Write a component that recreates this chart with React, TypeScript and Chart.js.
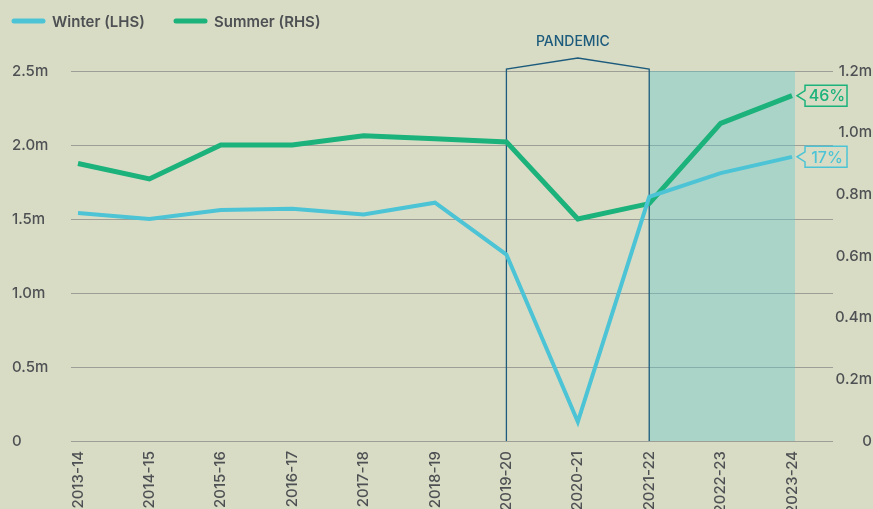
import React, { useEffect, useRef } from "react";
import { Chart, registerables } from "chart.js";

Chart.register(...registerables);

const categories = ["2013-14", "2014-15", "2015-16", "2016-17", "2017-18", "2018-19", "2019-20", "2020-21", "2021-22", "2022-23", "2023-24"];
const winter = [1.54, 1.5, 1.56, 1.57, 1.53, 1.61, 1.26, 0.13, 1.65, 1.81, 1.92];
const summer = [0.9, 0.85, 0.96, 0.96, 0.99, 0.98, 0.97, 0.72, 0.77, 1.03, 1.12];
const leftTicks = [0, 0.5, 1.0, 1.5, 2.0, 2.5];
const rightTicks = [0, 0.2, 0.4, 0.6, 0.8, 1.0, 1.2];
const seriesNames = ["Winter (LHS)", "Summer (RHS)"];
const changeLabels = ["17%", "46%"];
const pandemicStart = 6;
const pandemicEnd = 8;
const shadeStart = 8;
const shadeEnd = 10;
const pandemicLabel = "PANDEMIC";

const BG = "#d9dcc5";
const WINTER = "#4cc4d5";
const SUMMER = "#1bb27b";
const DARK = "#1c5b7c";
const TEXT = "#4e5153";
const GRID = "#9d9f96";
const FONT = "Inter, 'Open Sans', sans-serif";

const fmtM = (v: number) => (Math.abs(v) < 1e-9 ? "0" : v.toFixed(1) + "m");

export default function App() {
  const ref = useRef<HTMLCanvasElement>(null);

  useEffect(() => {
    document.body.style.margin = "0";
    document.body.style.background = BG;
    const canvas = ref.current!;
    const decor = {
      id: "decor",
      beforeDraw(chart: any) {
        const ctx = chart.ctx;
        ctx.save();
        ctx.fillStyle = BG;
        ctx.fillRect(0, 0, chart.width, chart.height);
        ctx.restore();
      },
      beforeDatasetsDraw(chart: any) {
        const ctx = chart.ctx;
        const xs = chart.scales.x;
        const { top, bottom } = chart.chartArea;
        ctx.save();
        const x0 = xs.getPixelForValue(shadeStart);
        const x1 = xs.getPixelForValue(shadeEnd) + 3;
        ctx.fillStyle = "rgba(100,200,207,0.385)";
        ctx.fillRect(x0, top, x1 - x0, bottom - top);
        const p0 = xs.getPixelForValue(pandemicStart);
        const p1 = xs.getPixelForValue(pandemicEnd);
        ctx.strokeStyle = DARK;
        ctx.lineWidth = 1.3;
        ctx.beginPath();
        ctx.moveTo(p0, bottom);
        ctx.lineTo(p0, top - 2);
        ctx.lineTo((p0 + p1) / 2, top - 13);
        ctx.lineTo(p1, top - 2);
        ctx.lineTo(p1, bottom);
        ctx.stroke();
        ctx.fillStyle = DARK;
        ctx.font = `500 14px ${FONT}`;
        ctx.textAlign = "center";
        ctx.textBaseline = "middle";
        ctx.fillText(pandemicLabel, (p0 + p1) / 2 - 5, top - 29);
        ctx.restore();
      },
      afterDatasetsDraw(chart: any) {
        const ctx = chart.ctx;
        ctx.save();
        chart.data.datasets.forEach((ds: any, i: number) => {
          const meta = chart.getDatasetMeta(i);
          const pt = meta.data[meta.data.length - 1];
          const x = pt.x;
          const y = pt.y;
          const bx = x + 13;
          const bw = 42;
          const bh = 21;
          const by = y - bh / 2;
          ctx.beginPath();
          ctx.moveTo(bx, y - 5);
          ctx.lineTo(x + 5, y);
          ctx.lineTo(bx, y + 5);
          ctx.lineTo(bx, by + bh);
          ctx.lineTo(bx + bw, by + bh);
          ctx.lineTo(bx + bw, by);
          ctx.lineTo(bx, by);
          ctx.closePath();
          ctx.fillStyle = BG;
          ctx.fill();
          ctx.strokeStyle = ds.borderColor;
          ctx.lineWidth = 1.5;
          ctx.stroke();
          ctx.fillStyle = ds.borderColor;
          ctx.font = `500 16px ${FONT}`;
          ctx.textAlign = "center";
          ctx.textBaseline = "middle";
          ctx.fillText(changeLabels[i], bx + bw / 2 + 1, y + 1);
        });
        const lx = [12, 174];
        chart.data.datasets.forEach((ds: any, i: number) => {
          ctx.strokeStyle = ds.borderColor;
          ctx.lineWidth = 5;
          ctx.lineCap = "round";
          ctx.beginPath();
          ctx.moveTo(lx[i] + 2, 21);
          ctx.lineTo(lx[i] + 31, 21);
          ctx.stroke();
          ctx.fillStyle = TEXT;
          ctx.font = `600 15px ${FONT}`;
          ctx.textAlign = "left";
          ctx.textBaseline = "middle";
          ctx.fillText(ds.label, lx[i] + 40, 22);
        });
        ctx.restore();
      },
    };

    const tickFont = { family: FONT, size: 15, weight: "500" };

    const chart = new Chart(canvas, {
      type: "line",
      data: {
        datasets: [
          {
            label: seriesNames[0],
            data: winter.map((v, i) => ({ x: i, y: v })),
            borderColor: WINTER,
            borderWidth: 4,
            pointRadius: 0,
            yAxisID: "y",
            tension: 0,
          },
          {
            label: seriesNames[1],
            data: summer.map((v, i) => ({ x: i, y: v })),
            borderColor: SUMMER,
            borderWidth: 5,
            pointRadius: 0,
            yAxisID: "y1",
            tension: 0,
          },
        ],
      },
      options: {
        responsive: false,
        animation: false,
        layout: { padding: { left: 12, right: 1, top: 71, bottom: 0 } },
        plugins: { legend: { display: false }, tooltip: { enabled: false } },
        scales: {
          x: {
            type: "linear",
            min: -0.098,
            max: 10.574,
            grid: { display: false, drawTicks: false },
            border: { display: false },
            afterBuildTicks: (s: any) => {
              s.ticks = categories.map((_, i) => ({ value: i }));
            },
            afterFit: (s: any) => {
              s.height = 68;
            },
            ticks: {
              autoSkip: false,
              minRotation: 90,
              maxRotation: 90,
              padding: 10,
              color: TEXT,
              font: tickFont,
              callback: (v: any) => categories[v] ?? "",
            },
          },
          y: {
            position: "left",
            min: 0,
            max: 2.5,
            afterBuildTicks: (s: any) => {
              s.ticks = leftTicks.map((v) => ({ value: v }));
            },
            afterFit: (s: any) => {
              s.width = 59;
            },
            grid: { color: GRID, lineWidth: 1, drawTicks: false },
            border: { display: false },
            ticks: {
              crossAlign: "far",
              color: TEXT,
              font: tickFont,
              callback: (v: any) => fmtM(Number(v)),
            },
          },
          y1: {
            position: "right",
            min: 0,
            max: 1.2,
            afterBuildTicks: (s: any) => {
              s.ticks = rightTicks.map((v) => ({ value: v }));
            },
            afterFit: (s: any) => {
              s.width = 39;
            },
            grid: { display: false, drawTicks: false },
            border: { display: false },
            ticks: {
              crossAlign: "far",
              color: TEXT,
              font: tickFont,
              callback: (v: any) => fmtM(Number(v)),
            },
          },
        },
      } as any,
      plugins: [decor],
    });
    return () => chart.destroy();
  }, []);

  return (
    <div style={{ width: 873, height: 509, background: BG }}>
      <canvas ref={ref} width={873} height={509} style={{ display: "block" }} />
    </div>
  );
}
